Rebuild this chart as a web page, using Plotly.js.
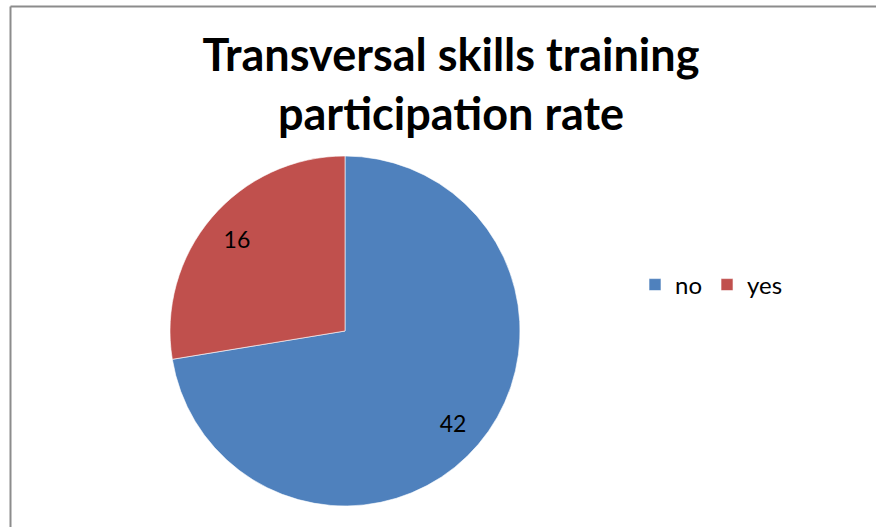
<!DOCTYPE html>
<html>
<head>
<meta charset="utf-8">
<script src="https://cdn.plot.ly/plotly-3.0.1.min.js"></script>
<style>
html,body{margin:0;padding:0;background:#fff;}
#chart{width:876px;height:527px;}
</style>
</head>
<body>
<div id="chart"></div>
<script>
const categories = ['no', 'yes'];
const counts = [42, 16];
const sliceColors = ['#4F81BD', '#C0504D'];
const titleText = 'Transversal skills training<br>participation rate';

const W = 876, H = 527;
const cx = 345, cy = 331, r = 175;
const dom = {
  x: [(cx - r) / W, (cx + r) / W],
  y: [(H - cy - r) / H, (H - cy + r) / H]
};

const pie = {
  type: 'pie',
  labels: categories,
  values: counts,
  sort: false,
  direction: 'clockwise',
  rotation: 0,
  domain: dom,
  marker: {colors: sliceColors, line: {color: 'rgba(255,255,255,0.6)', width: 1}},
  textinfo: 'none',
  hoverinfo: 'label+value',
  showlegend: true
};

const labelsRing = {
  type: 'pie',
  labels: categories,
  values: counts,
  sort: false,
  direction: 'clockwise',
  rotation: 0,
  domain: dom,
  hole: 0.62,
  marker: {colors: ['rgba(0,0,0,0)', 'rgba(0,0,0,0)'], line: {width: 0}},
  textinfo: 'value',
  textposition: 'inside',
  insidetextorientation: 'horizontal',
  insidetextfont: {family: 'Lato, sans-serif', size: 23, color: '#000'},
  hoverinfo: 'skip',
  showlegend: false
};

const layout = {
  width: W, height: H,
  margin: {l: 0, r: 0, t: 0, b: 0},
  paper_bgcolor: '#fff',
  plot_bgcolor: '#fff',
  font: {family: 'Lato, sans-serif', color: '#000'},
  title: {
    text: titleText,
    x: 451 / W, xanchor: 'center',
    y: 1 - 71 / H, yanchor: 'top',
    font: {family: 'Lato, sans-serif', size: 45, weight: 'bold', color: '#000'}
  },
  legend: {
    orientation: 'h',
    x: 635 / W, xanchor: 'left',
    y: 1 - 285 / H, yanchor: 'middle',
    font: {family: 'Lato, sans-serif', size: 24, color: '#000'},
    itemclick: false, itemdoubleclick: false,
    bgcolor: 'rgba(0,0,0,0)'
  },
  shapes: [
    {type: 'line', xref: 'paper', yref: 'paper', x0: 10.5 / W, x1: 1, y0: 1 - 6.5 / H, y1: 1 - 6.5 / H, line: {color: '#8c8c8c', width: 2}},
    {type: 'line', xref: 'paper', yref: 'paper', x0: 10.5 / W, x1: 10.5 / W, y0: 0, y1: 1 - 6.5 / H, line: {color: '#8c8c8c', width: 2}}
  ]
};

Plotly.newPlot('chart', [pie, labelsRing], layout, {displayModeBar: false, staticPlot: false});
</script>
</body>
</html>
